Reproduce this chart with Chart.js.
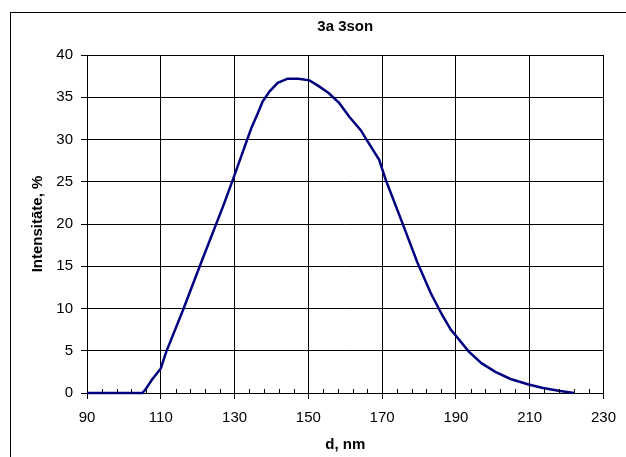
<!DOCTYPE html>
<html>
<head>
<meta charset="utf-8">
<script src="https://cdn.jsdelivr.net/npm/chart.js@4/dist/chart.umd.min.js"></script>
<style>
  html, body { margin: 0; padding: 0; background: #fff; }
  #wrap { width: 626px; height: 457px; }
</style>
</head>
<body>
<div id="wrap"><canvas id="size-chart"></canvas></div>
<script>
// Data
var sizes = [90, 105, 106, 107.5, 110, 111.5, 116, 121, 126.8, 129.5, 131.8, 134.5, 136.3,
  137.6, 139.5, 141.7, 144.4, 147.3, 150.3, 152.5, 155.5, 158.4, 161.1, 164.2, 165.6, 169.2,
  171, 175.5, 179.5, 183.2, 186.3, 188.6, 193.5, 197, 200.7, 204.8, 209.7, 213.3, 217.8, 222];
var intensity = [0, 0, 0.5, 1.5, 2.9, 4.9, 9.8, 15.5, 22.0, 25.2, 28.0, 31.3, 33.1,
  34.5, 35.7, 36.7, 37.2, 37.2, 37.0, 36.4, 35.5, 34.3, 32.7, 31.1, 30.1, 27.6,
  25.2, 20.1, 15.5, 11.8, 9.2, 7.5, 4.9, 3.5, 2.5, 1.66, 1.0, 0.63, 0.27, 0];
var xTicks = [90, 110, 130, 150, 170, 190, 210, 230];
var yTicks = [0, 5, 10, 15, 20, 25, 30, 35, 40];

var points = sizes.map(function (s, i) { return { x: s, y: intensity[i] }; });

Chart.defaults.font.family = "'Liberation Sans', Arial, sans-serif";
Chart.defaults.color = "#000";

// white page with the outer frame, and small minor ticks on the x axis
var framePlugin = {
  id: "frame",
  beforeDraw: function (chart) {
    var ctx = chart.ctx;
    ctx.save();
    ctx.fillStyle = "#fff";
    ctx.fillRect(0, 0, chart.width, chart.height);
    ctx.strokeStyle = "#000";
    ctx.lineWidth = 1;
    ctx.strokeRect(10.5, 12.5, chart.width, chart.height);
    ctx.restore();
  },
  afterDatasetsDraw: function (chart) {
    var ctx = chart.ctx;
    var xs = chart.scales.x;
    var bottom = chart.chartArea.bottom;
    ctx.save();
    ctx.strokeStyle = "#000";
    ctx.lineWidth = 1;
    ctx.beginPath();
    for (var v = 90; v < 230; v += 4) {
      if ((v - 90) % 20 === 0) continue;
      var px = Math.round(xs.getPixelForValue(v)) + 0.5;
      ctx.moveTo(px, bottom);
      ctx.lineTo(px, bottom - 4);
    }
    ctx.stroke();
    ctx.restore();
  }
};

var chart = new Chart(document.getElementById("size-chart"), {
  type: "scatter",
  data: {
    datasets: [{
      data: points,
      showLine: true,
      borderColor: "#000080",
      borderWidth: 2.5,
      pointRadius: 0,
      tension: 0,
      clip: false
    }]
  },
  options: {
    responsive: true,
    maintainAspectRatio: false,
    animation: false,
    layout: { padding: { left: 11, right: 21, top: 0, bottom: 0 } },
    plugins: {
      legend: { display: false },
      tooltip: { enabled: false },
      title: {
        display: true,
        text: "3a 3son",
        fullSize: false,
        font: { size: 15, weight: "bold" },
        color: "#000",
        padding: { top: 18, bottom: 19 }
      }
    },
    scales: {
      x: {
        type: "linear",
        min: 90,
        max: 230,
        afterBuildTicks: function (s) { s.ticks = xTicks.map(function (v) { return { value: v }; }); },
        afterFit: function (s) { s.height = 64; },
        ticks: { font: { size: 15 }, color: "#000", padding: 10, maxRotation: 0 },
        grid: { color: "#000", lineWidth: 1, tickLength: 6, tickColor: "#000" },
        border: { color: "#000" },
        title: {
          display: true,
          text: "d, nm",
          font: { size: 15, weight: "bold" },
          color: "#000",
          padding: { top: 0, bottom: 3 }
        }
      },
      y: {
        min: 0,
        max: 40,
        afterBuildTicks: function (s) { s.ticks = yTicks.map(function (v) { return { value: v }; }); },
        afterFit: function (s) { s.width = 76; },
        ticks: { font: { size: 15 }, color: "#000", padding: 8 },
        grid: { color: "#000", lineWidth: 1, tickLength: 6, tickColor: "#000" },
        border: { color: "#000" },
        title: {
          display: true,
          text: "Intensitāte, %",
          font: { size: 15, weight: "bold" },
          color: "#000",
          padding: { top: 18, bottom: 0 }
        }
      }
    }
  },
  plugins: [framePlugin]
});
</script>
</body>
</html>
